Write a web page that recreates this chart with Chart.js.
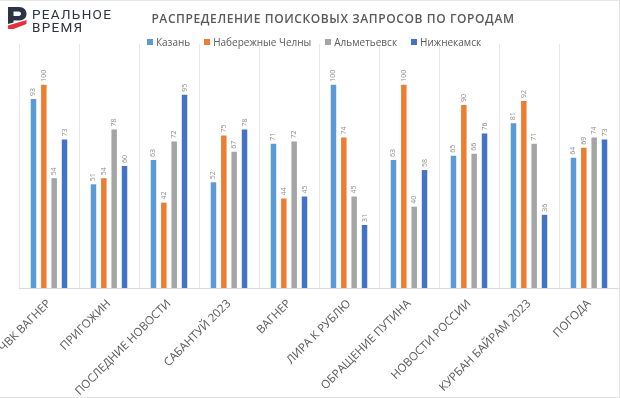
<!DOCTYPE html>
<html>
<head>
<meta charset="utf-8">
<script src="https://cdn.jsdelivr.net/npm/chart.js@4/dist/chart.umd.min.js"></script>
<style>
  body { margin: 0; background: #fff; }
  .wrap { position: relative; width: 620px; height: 398px; overflow: hidden; background: #fff; }
  .frame { position: absolute; left: 0; top: 0; width: 620px; height: 398px; box-sizing: border-box;
           border-top: 1px solid #e6e6e6; border-right: 1px solid #e3e3e3; border-bottom: 1px solid #e3e3e3; pointer-events: none; }
  canvas { position: absolute; left: 0; top: 0; }
  .logo { position: absolute; left: 8px; top: 7px; display: flex; align-items: flex-start; }
  .logo-text { margin-left: 5px; margin-top: 1px; font-family: Roboto, "DejaVu Sans", sans-serif; font-size: 13.5px; line-height: 12.5px;
               color: #2b3340; letter-spacing: 1.3px; }
  .title { position: absolute; top: 10px; left: 0; width: 666px; text-align: center;
           font-family: "Open Sans", sans-serif; font-weight: 600; font-size: 12px; letter-spacing: 0.6px; color: #595959; }
  .legend { position: absolute; top: 35px; left: 0; width: 628px; display: flex; justify-content: center;
            font-family: "Open Sans", sans-serif; font-size: 10px; color: #595959; }
  .legend span.item { display: flex; align-items: center; margin: 0 7px; }
  .legend i { display: inline-block; width: 6px; height: 6px; margin-right: 3px; }
</style>
</head>
<body>
<div class="wrap">
  <canvas id="chart" width="620" height="398"></canvas>
  <div class="logo">
    <svg width="19" height="22" viewBox="0 0 19 22">
      <path fill="#2a3444" fill-rule="evenodd"
            d="M0 0 H11 C16 0 18.5 3 18.5 6.8 C18.5 10.6 16 13.5 11 13.5 H5.5 V15.5 L0 17 Z
               M5.5 4.6 H10.6 C12.3 4.6 13 5.6 13 6.8 C13 8 12.3 9 10.6 9 H5.5 Z"/>
      <path fill="#e3323b" d="M0 18.5 L18.5 13 V17 L5.5 22 H0 Z"/>
    </svg>
    <div class="logo-text">РЕАЛЬНОЕ<br>ВРЕМЯ</div>
  </div>
  <div class="title">РАСПРЕДЕЛЕНИЕ ПОИСКОВЫХ ЗАПРОСОВ ПО ГОРОДАМ</div>
  <div class="legend" id="legend"></div>
  <div class="frame"></div>
</div>
<script>
const categories = [
    "ЧВК ВАГНЕР",
    "ПРИГОЖИН",
    "ПОСЛЕДНИЕ НОВОСТИ",
    "САБАНТУЙ 2023",
    "ВАГНЕР",
    "ЛИРА К РУБЛЮ",
    "ОБРАЩЕНИЕ ПУТИНА",
    "НОВОСТИ РОССИИ",
    "КУРБАН БАЙРАМ 2023",
    "ПОГОДА",
];

const seriesNames = ["Казань", "Набережные Челны", "Альметьевск", "Нижнекамск"];
const seriesColors = ["#5B9BD5", "#ED7D31", "#A5A5A5", "#4472C4"];

const kazan       = [93, 51, 63, 52, 71, 100, 63, 65, 81, 64];
const chelny      = [100, 54, 42, 75, 44, 74, 100, 90, 92, 69];
const almetyevsk  = [54, 78, 72, 67, 72, 45, 40, 66, 71, 74];
const nizhnekamsk = [73, 60, 95, 78, 45, 31, 58, 76, 36, 73];

const seriesValues = [kazan, chelny, almetyevsk, nizhnekamsk];

// legend in html, it overlaps the plot area like in the original
const legendEl = document.getElementById("legend");
seriesNames.forEach((name, i) => {
    const item = document.createElement("span");
    item.className = "item";
    item.innerHTML = '<i style="background:' + seriesColors[i] + '"></i>' + name;
    legendEl.appendChild(item);
});

// small rotated numbers above every bar
const barValueLabels = {
    id: "barValueLabels",
    afterDatasetsDraw(chart) {
        const ctx = chart.ctx;
        ctx.save();
        ctx.font = '7px "Open Sans"';
        ctx.fillStyle = "#8f8f8f";
        ctx.textAlign = "left";
        ctx.textBaseline = "middle";
        chart.data.datasets.forEach((ds, i) => {
            chart.getDatasetMeta(i).data.forEach((bar, j) => {
                ctx.save();
                ctx.translate(bar.x, bar.y - 3);
                ctx.rotate(-Math.PI / 2);
                ctx.fillText(ds.data[j], 0, 0);
                ctx.restore();
            });
        });
        ctx.restore();
    },
};

new Chart(document.getElementById("chart"), {
    type: "bar",
    data: {
        labels: categories,
        datasets: seriesValues.map((vals, i) => ({
            label: seriesNames[i],
            data: vals,
            backgroundColor: seriesColors[i],
            borderWidth: 0,
            categoryPercentage: 0.69,
            barPercentage: 0.53,
        })),
    },
    options: {
        responsive: false,
        animation: false,
        layout: {
            padding: { top: 44, left: 19, right: 1, bottom: 0 },
        },
        plugins: {
            legend: { display: false },
            title: { display: false },
            tooltip: { enabled: false },
        },
        scales: {
            x: {
                grid: {
                    color: "#e8e8e8",
                    drawTicks: false,
                },
                border: { color: "#d9d9d9" },
                ticks: {
                    color: "#595959",
                    font: { family: "Open Sans", size: 11.5 },
                    maxRotation: 45,
                    minRotation: 45,
                    padding: 9,
                    autoSkip: false,
                },
                afterFit: function (scale) {
                    // fixed axis height, and don't let the long first label push the plot right
                    scale.height = 110;
                    scale.paddingLeft = 0;
                    scale.paddingRight = 0;
                },
            },
            y: {
                display: false,
                min: 0,
                max: 120,
            },
        },
    },
    plugins: [barValueLabels],
});
</script>
</body>
</html>
